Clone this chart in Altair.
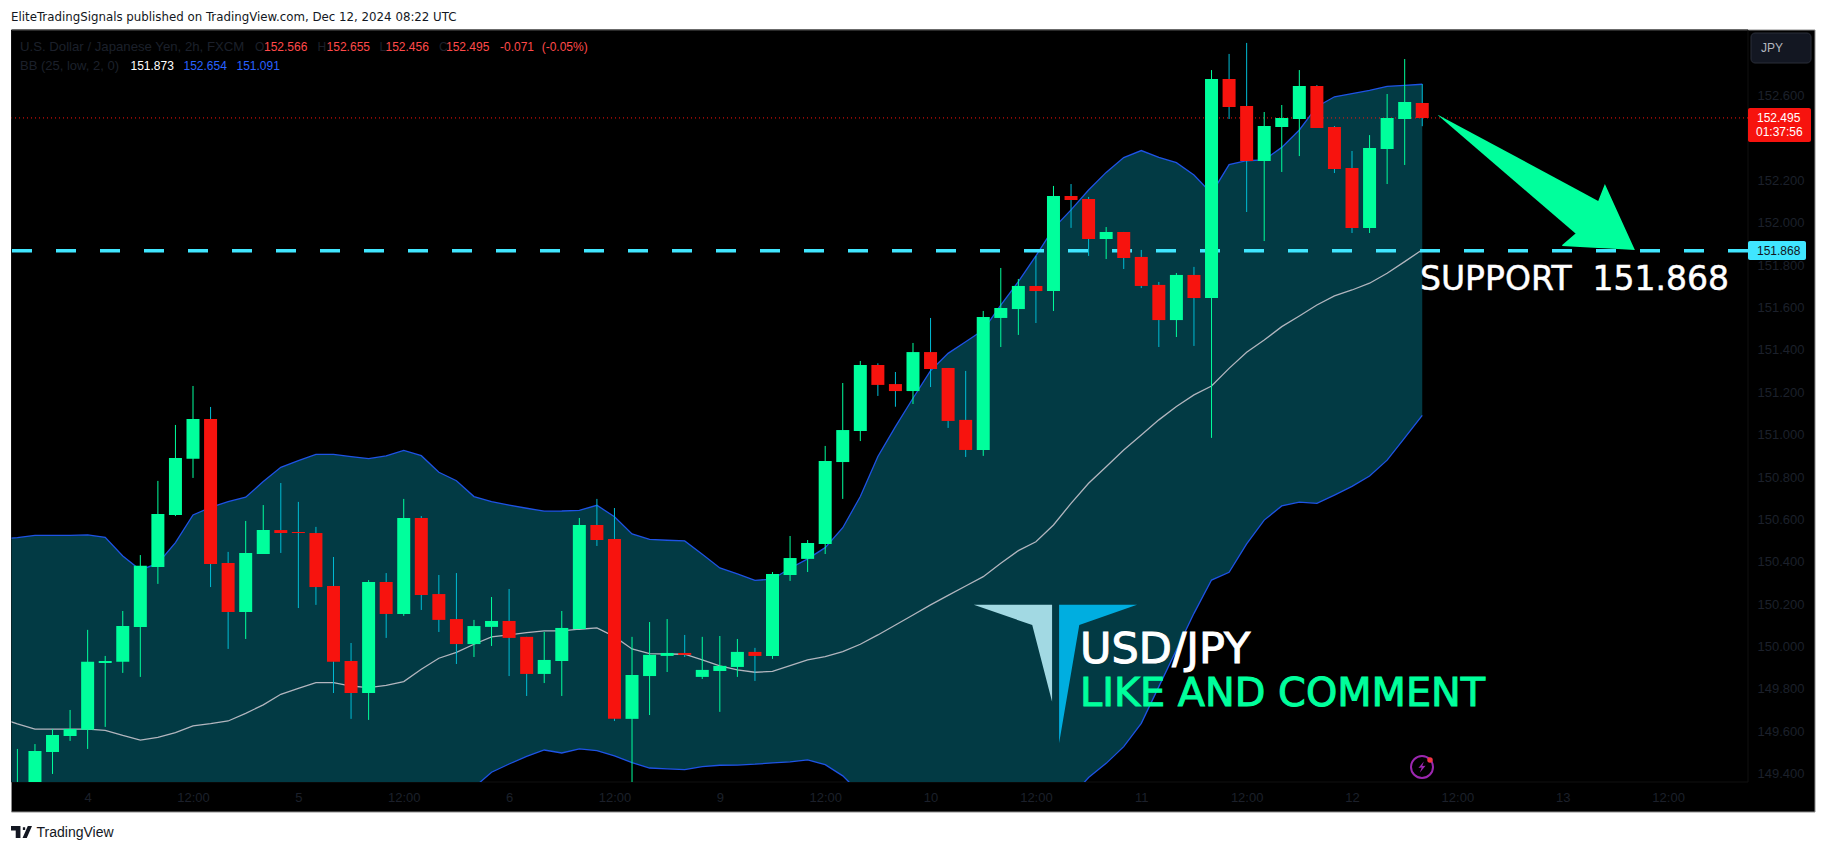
import json
import altair as alt
import pandas as pd

# ---- OHLC (2h bars) ----
opens = [149.30,149.33,149.503,149.578,149.607,149.923,149.928,150.093,150.376,150.621,150.886,151.074,150.395,150.163,150.437,150.550,150.541,150.536,150.286,149.932,149.781,150.305,150.154,150.607,150.248,150.130,150.012,150.093,150.121,150.046,149.871,149.932,150.083,150.574,150.508,149.659,149.861,149.956,149.970,149.857,149.885,149.904,149.975,149.956,150.338,150.414,150.484,150.871,151.018,151.329,151.239,151.206,151.390,151.315,151.070,150.928,151.551,151.593,151.702,151.678,152.127,152.113,151.924,151.957,151.839,151.707,151.541,151.754,151.645,152.679,152.551,152.292,152.452,152.490,152.646,152.452,152.259,151.976,152.348,152.490,152.566]
highs = [149.517,149.540,149.611,149.701,150.079,149.956,150.168,150.432,150.782,151.046,151.230,151.131,150.447,150.593,150.668,150.772,150.683,150.565,150.423,150.017,150.314,150.347,150.697,150.616,150.338,150.347,150.126,150.234,150.272,150.046,150.069,150.168,150.607,150.697,150.654,150.046,150.116,150.130,150.055,150.046,150.050,150.036,149.994,150.352,150.522,150.503,150.947,151.244,151.348,151.337,151.296,151.433,151.551,151.315,151.301,151.584,151.787,151.735,151.844,152.174,152.183,152.122,151.980,151.957,151.872,151.721,151.763,151.792,152.721,152.797,152.849,152.523,152.556,152.721,152.650,152.457,152.339,152.414,152.608,152.773,152.655]
lows = [149.25,149.30,149.399,149.555,149.517,149.621,149.876,149.857,150.296,150.616,150.796,150.281,149.989,150.036,150.437,150.442,150.182,150.197,149.781,149.659,149.654,150.041,150.145,150.173,150.069,149.918,149.951,150.003,149.861,149.767,149.828,149.767,150.083,150.475,149.649,149.35,149.677,149.880,149.951,149.847,149.692,149.857,149.838,149.942,150.310,150.352,150.437,150.697,150.970,151.183,151.132,151.145,151.225,151.032,150.895,150.900,151.414,151.471,151.527,151.584,151.976,151.844,151.829,151.782,151.692,151.414,151.461,151.419,150.985,152.490,152.051,151.914,152.240,152.315,152.448,152.235,151.952,151.952,152.183,152.273,152.456]
closes = [149.34,149.507,149.583,149.611,149.928,149.932,150.097,150.381,150.626,150.890,151.074,150.390,150.163,150.442,150.550,150.536,150.536,150.281,149.928,149.781,150.305,150.154,150.607,150.244,150.126,150.012,150.097,150.121,150.041,149.871,149.937,150.088,150.574,150.503,149.659,149.866,149.961,149.970,149.961,149.890,149.909,149.975,149.956,150.343,150.418,150.489,150.876,151.022,151.329,151.235,151.206,151.390,151.310,151.065,150.928,151.556,151.598,151.702,151.678,152.127,152.108,151.924,151.957,151.834,151.702,151.541,151.754,151.645,152.679,152.547,152.292,152.457,152.495,152.646,152.448,152.254,151.976,152.353,152.495,152.570,152.495]

# ---- Bollinger bands, starting one bar before the first candle ----
bb_upper = [150.508,150.514,150.525,150.525,150.525,150.527,150.516,150.428,150.362,150.393,150.491,150.621,150.657,150.684,150.705,150.779,150.846,150.878,150.907,150.907,150.897,150.887,150.900,150.926,150.901,150.823,150.783,150.708,150.684,150.668,150.653,150.639,150.640,150.643,150.667,150.613,150.532,150.506,150.502,150.499,150.436,150.371,150.343,150.313,150.318,150.370,150.414,150.467,150.561,150.708,150.897,151.038,151.172,151.302,151.384,151.439,151.494,151.612,151.722,151.844,151.974,152.061,152.155,152.238,152.308,152.341,152.309,152.284,152.226,152.139,152.275,152.293,152.297,152.356,152.438,152.548,152.595,152.610,152.625,152.644,152.649,152.654]
bb_mid = [149.663,149.635,149.611,149.611,149.611,149.611,149.605,149.581,149.559,149.572,149.594,149.626,149.636,149.649,149.685,149.725,149.775,149.803,149.830,149.830,149.814,149.806,149.817,149.835,149.893,149.945,149.973,150.011,150.046,150.055,150.066,150.074,150.074,150.082,150.088,150.047,149.989,149.967,149.965,149.964,149.937,149.909,149.890,149.879,149.883,149.910,149.937,149.953,149.976,150.011,150.055,150.102,150.149,150.197,150.242,150.286,150.330,150.393,150.453,150.495,150.574,150.676,150.771,150.849,150.928,150.999,151.070,151.133,151.188,151.230,151.313,151.389,151.447,151.510,151.560,151.612,151.655,151.683,151.715,151.762,151.817,151.873]
bb_lower = [148.818,148.756,148.697,148.697,148.697,148.695,148.694,148.734,148.756,148.751,148.697,148.631,148.615,148.614,148.665,148.671,148.704,148.728,148.753,148.753,148.731,148.725,148.734,148.744,148.885,149.067,149.163,149.335,149.407,149.446,149.482,149.512,149.498,149.517,149.509,149.484,149.452,149.427,149.423,149.419,149.434,149.440,149.441,149.445,149.451,149.456,149.465,149.443,149.390,149.308,149.213,149.158,149.118,149.088,149.100,149.133,149.166,149.182,149.176,149.146,149.174,149.291,149.382,149.449,149.528,149.638,149.811,149.984,150.157,150.314,150.351,150.485,150.597,150.664,150.682,150.676,150.715,150.756,150.805,150.880,150.985,151.091]

last_price = 152.495
support = 151.868

price_ticks = [152.6,152.2,152.0,151.8,151.6,151.4,151.2,151.0,150.8,150.6,150.4,150.2,150.0,149.8,149.6,149.4]
time_ticks = [4,10,16,22,28,34,40,46,52,58,64,70,76,82,88,94]
time_labels = ["4","12:00","5","12:00","6","12:00","9","12:00","10","12:00","11","12:00","12","12:00","13","12:00"]

# annotation shapes: bar index, upper price, lower price
arrow_shaft = {"i":[80.91,88.73,90.02],"top":[152.509,152.161,152.103],"bot":[152.506,151.950,151.950]}
arrow_head = {"i":[87.97,88.73,90.02,90.40,92.11],"top":[151.895,151.950,152.103,152.183,151.872],"bot":[151.891,151.887,151.881,151.880,151.872]}
logo_left = {"i":[54.46,57.79,58.92],"top":[150.197,150.197,150.197],"bot":[150.197,150.102,149.740]}
logo_right = {"i":[59.32,60.47,63.76],"top":[150.197,150.197,150.197],"bot":[149.544,150.102,150.197]}

GREEN = "#00FF9C"; RED = "#F7130E"; TEAL = "#00BCD4"; BAND = "#023A44"
BLUE = "#1E53E5"; MIDC = "#B2B5BE"; CYAN = "#40E6FF"; DIM = "#1C202B"; AXISC = "#1C202B"
FONT = "Liberation Sans"
LEFT = 11.5

xs = alt.Scale(domain=[-0.336, 98.55], nice=False, zero=False, padding=0)
ys = alt.Scale(domain=[149.361, 152.910], nice=False, zero=False)
expr = json.dumps({str(k): v for k, v in zip(time_ticks, time_labels)})
AX = alt.Axis(values=time_ticks, labelExpr=f"{expr}[datum.value]", grid=False, domain=False, ticks=False,
              labelColor=AXISC, labelFontSize=13, labelFont=FONT, labelPadding=9, labelOverlap=False, zindex=1)
AY = alt.Axis(orient="right", values=price_ticks, format=".3f", grid=False, domain=False, ticks=False,
              labelColor=AXISC, labelFontSize=13, labelFont=FONT, labelPadding=9, labelOverlap=False, zindex=1)
X = alt.X("i:Q", scale=xs, title=None, axis=AX)
one = alt.Data(values=[{"a": 1}])


def Y(field):
    return alt.Y(f"{field}:Q", scale=ys, title=None, axis=AY)


ohlc = pd.DataFrame({"i": range(len(opens)), "open": opens, "high": highs, "low": lows, "close": closes})
bb = pd.DataFrame({"i": range(-1, len(bb_upper) - 1), "upper": bb_upper, "mid": bb_mid, "lower": bb_lower})


def pt(x, y):
    return {"x": alt.value(x - LEFT), "y": alt.value(y - 30)}


def label(text, x, y, color, size=12, font=FONT, align="left", heavy=0):
    kw = {"stroke": color, "strokeWidth": heavy} if heavy else {}
    return alt.Chart(alt.Data(values=[{"t": text}])).mark_text(
        color=color, fontSize=size, font=font, align=align, baseline="middle", **kw
    ).encode(text="t:N", **pt(x, y))


def box(x1, x2, y1, y2, **kw):
    return alt.Chart(one).mark_rect(**kw).encode(
        x=alt.value(x1 - LEFT), x2=alt.value(x2 - LEFT), y=alt.value(y1 - 30), y2=alt.value(y2 - 30))


def poly(d, color):
    return alt.Chart(pd.DataFrame(d)).mark_area(color=color, opacity=1, clip=True).encode(
        x=X, y=Y("top"), y2=alt.Y2("bot:Q"))


def glyph(path, x, y, size, color):
    return alt.Chart(one).mark_point(shape=path, filled=True, color=color, opacity=1, size=size, strokeWidth=0).encode(**pt(x, y))


panel = box(LEFT, 1815, 30, 812, fill="#000000", stroke="#8C8C8C", strokeWidth=1)
pane_edge = box(LEFT, 1748, 30, 782, fillOpacity=0, stroke="#101010", strokeWidth=1)

band = alt.Chart(bb).mark_area(color=BAND, opacity=1, clip=True).encode(
    x=X, y=Y("upper"), y2=alt.Y2("lower:Q"))


def bb_line(field, color, w):
    return alt.Chart(bb).mark_line(color=color, strokeWidth=w, clip=True).encode(x=X, y=Y(field))


support_line = alt.Chart(alt.Data(values=[{"p": support}])).mark_rule(color=CYAN, strokeWidth=3.5, strokeDash=[20, 24]).encode(y=Y("p"))
last_line = alt.Chart(alt.Data(values=[{"p": last_price}])).mark_rule(color=RED, strokeWidth=1, strokeDash=[1, 3]).encode(y=Y("p"))

up = "datum.close >= datum.open"
wicks = alt.Chart(ohlc).mark_rule(strokeWidth=1, clip=True).encode(
    x=X, y=Y("low"), y2=alt.Y2("high:Q"),
    color=alt.condition(up, alt.value(GREEN), alt.value(TEAL)),
)
bodies = alt.Chart(ohlc).mark_bar(size=13, clip=True, orient="vertical").encode(
    x=X, y=Y("open"), y2=alt.Y2("close:Q"),
    color=alt.condition(up, alt.value(GREEN), alt.value(RED)),
)

TV = "M-1,-.571 L-.1,-.571 L-.1,.571 L-.55,.571 L-.55,-.15 L-1,-.15 Z M.13,-.45 L.35,-.45 L.35,-.2 L.13,-.2 Z M.6,-.571 L1,-.571 L.5,.571 L.1,.571 Z"
BOLT = "M.3,-.9 L-.6,.15 L-.05,.1 L-.35,.9 L.6,-.2 L.05,-.15 Z"

ring = alt.Chart(one).mark_point(shape="circle", filled=False, color="#9C27B0", opacity=1, size=484, strokeWidth=2).encode(**pt(1422, 767))
dot = alt.Chart(one).mark_point(shape="circle", filled=True, color="#F23645", opacity=1, size=30).encode(**pt(1430, 760))

texts = [
    label("EliteTradingSignals published on TradingView.com, Dec 12, 2024 08:22 UTC", 11, 16.5, "#131722", 11.8, "DejaVu Sans"),
    label("U.S. Dollar / Japanese Yen, 2h, FXCM", 20, 46.5, DIM, 13.2),
    label("O", 255, 46.5, DIM), label("152.566", 264, 46.5, "#FF4A4A"),
    label("H", 317.5, 46.5, DIM), label("152.655", 326.6, 46.5, "#FF4A4A"),
    label("L", 379.6, 46.5, DIM), label("152.456", 385.5, 46.5, "#FF4A4A"),
    label("C", 439, 46.5, DIM), label("152.495", 446, 46.5, "#FF4A4A"),
    label("-0.071", 500, 46.5, "#FF4A4A"), label("(-0.05%)", 541.7, 46.5, "#FF4A4A"),
    label("BB (25, low, 2, 0)", 20, 65.5, DIM, 13),
    label("151.873", 130.5, 65.5, "#FFFFFF"), label("152.654", 183.5, 65.5, "#2962FF"), label("151.091", 236.5, 65.5, "#2962FF"),
    label("SUPPORT\u00a0\u00a0151.868", 1420, 280, "#FFFFFF", 33, "DejaVu Sans", heavy=0.5),
    label("USD/JPY", 1080, 650, "#FFFFFF", 43, "DejaVu Sans", heavy=1),
    label("LIKE AND COMMENT", 1080, 693.5, GREEN, 39.8, "DejaVu Sans", heavy=1),
    label("JPY", 1761, 48, "#B2B5BE", 12),
    label("152.495", 1757, 117.5, "#FFFFFF", 12),
    label("01:37:56", 1756, 132, "#FFFFFF", 12),
    label("151.868", 1757, 250.5, "#131722", 12),
    label("TradingView", 36.5, 832.5, "#131722", 14),
]

chart = alt.layer(
    panel, pane_edge, band,
    bb_line("upper", BLUE, 1.3), bb_line("lower", BLUE, 1.3), bb_line("mid", MIDC, 1.3),
    support_line, last_line, wicks, bodies,
    poly(logo_left, "#A2D9E3"), poly(logo_right, "#00AEE0"),
    poly(arrow_shaft, GREEN), poly(arrow_head, GREEN),
    ring, glyph(BOLT, 1422, 767, 144, "#9C27B0"), dot,
    box(1751, 1811, 33, 63, fill="#131722", stroke="#2A2E39", strokeWidth=1, cornerRadius=4),
    box(1748, 1811, 108, 142, fill=RED, cornerRadius=2),
    box(1748, 1806, 241, 260, fill=CYAN, cornerRadius=2),
    glyph(TV, 21.5, 832, 441, "#131722"),
    *texts,
).properties(
    width=1736.5, height=752,
    padding={"left": 3.5, "top": 22, "right": 70, "bottom": 60},
    autosize=alt.AutoSizeParams(type="none"),
    background="#FFFFFF",
).configure_view(strokeWidth=0)

chart.save("out.html", embed_options={"renderer": "svg", "actions": False})
